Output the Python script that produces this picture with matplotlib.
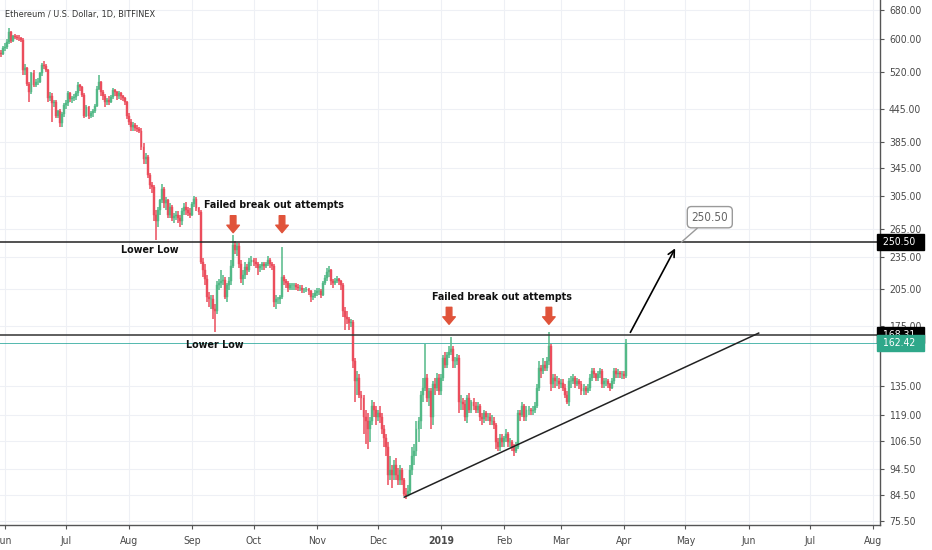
import matplotlib
matplotlib.use("Agg")
import matplotlib.pyplot as plt
import matplotlib.dates as mdates
import matplotlib.transforms as mtransforms
import numpy as np
import pandas as pd

# daily ETH/USD candles, 2018-05-29 .. 2019-04-02
start_date = "2018-05-29"
first_open = 560
closes = [
    566, 562, 578,
    # Jun
    580, 592, 618, 596, 608, 606, 604, 602, 598, 525, 530, 495, 478, 518, 492, 498, 500, 518, 538, 535,
    525, 466, 470, 455, 458, 432, 440, 418, 434, 452,
    # Jul
    455, 475, 464, 466, 468, 475, 492, 488, 472, 432, 448, 432, 436, 440, 450, 485, 500, 478, 470, 458,
    462, 458, 468, 482, 478, 470, 476, 470, 466, 458, 432,
    # Aug
    420, 412, 415, 410, 408, 405, 378, 358, 362, 335, 320, 318, 282, 275, 288, 300, 315, 296, 300, 282,
    292, 278, 280, 282, 278, 274, 286, 292, 288, 284, 282,
    # Sep
    295, 302, 290, 285, 230, 222, 214, 198, 196, 196, 188, 186, 208, 210, 212, 213, 198, 208, 212, 226,
    248, 242, 246, 228, 214, 218, 225, 222, 230, 232,
    # Oct
    230, 228, 224, 226, 228, 226, 228, 232, 228, 226, 194, 196, 196, 198, 216, 212, 210, 206, 208, 208,
    208, 207, 206, 206, 204, 204, 205, 203, 198, 199, 201,
    # Nov
    203, 203, 200, 210, 215, 220, 222, 212, 210, 212, 214, 212, 208, 186, 182, 180, 177, 178, 150, 138,
    140, 130, 128, 118, 116, 112, 116, 124, 122, 118,
    # Dec
    120, 118, 112, 108, 104, 92, 94, 92, 96, 92, 90, 94, 90, 85, 84, 86, 94, 100, 102, 112,
    116, 130, 134, 140, 128, 132, 118, 136, 134, 140, 132,
    # Jan
    140, 152, 148, 154, 156, 158, 150, 150, 152, 126, 126, 125, 118, 128, 122, 126, 124, 122, 124, 118,
    117, 120, 118, 118, 116, 116, 114, 106, 104, 108, 106,
    # Feb
    108, 110, 106, 106, 104, 102, 104, 120, 119, 124, 118, 122, 122, 121, 122, 124, 134, 146, 144, 148,
    146, 150, 160, 136, 140, 138, 138, 136,
    # Mar
    137, 134, 130, 126, 138, 138, 140, 136, 138, 136, 132, 134, 132, 134, 140, 144, 142, 140, 142, 144,
    136, 138, 138, 136, 134, 138, 144, 142, 143, 142, 142,
    # Apr
    141, 162.42,
]
highs = [
    575, 572, 582,
    590, 600, 630, 622, 612, 614, 610, 612, 606, 602, 540, 532, 500, 522, 525, 505, 508, 522, 542, 545,
    540, 528, 478, 476, 462, 462, 442, 445, 438, 456,
    462, 480, 478, 470, 474, 480, 498, 494, 490, 475, 452, 450, 440, 444, 454, 490, 515, 502, 482, 474,
    466, 470, 472, 486, 484, 480, 480, 478, 472, 468, 460,
    436, 425, 420, 418, 414, 412, 410, 384, 368, 365, 338, 324, 320, 288, 292, 302, 322, 318, 304, 302,
    296, 294, 284, 286, 286, 282, 290, 296, 298, 292, 290,
    298, 306, 304, 292, 288, 234, 228, 218, 202, 200, 200, 192, 212, 214, 222, 218, 216, 210, 216, 232,
    258, 252, 250, 250, 232, 222, 230, 228, 234, 236,
    234, 234, 230, 228, 230, 230, 230, 236, 234, 230, 228, 200, 198, 200, 245, 218, 214, 212, 210, 210,
    210, 210, 209, 208, 208, 206, 207, 206, 204, 201, 204,
    206, 206, 205, 212, 218, 224, 226, 223, 214, 215, 217, 215, 213, 210, 190, 186, 182, 180, 179, 152,
    144, 142, 132, 130, 122, 120, 118, 127, 126, 124,
    122, 124, 120, 114, 110, 106, 100, 96, 98, 99, 95, 96, 95, 91, 87, 88, 96, 104, 105, 116,
    118, 132, 140, 162, 142, 134, 134, 138, 140, 143, 142,
    142, 154, 156, 156, 160, 167, 160, 153, 155, 154, 130, 128, 127, 130, 131, 127, 128, 126, 126, 125,
    120, 122, 121, 120, 120, 119, 118, 115, 108, 110, 110,
    109, 112, 111, 108, 107, 105, 106, 122, 122, 126, 125, 124, 124, 123, 124, 126, 136, 150, 148, 152,
    150, 153, 170, 162, 142, 142, 141, 140,
    139, 139, 136, 132, 140, 141, 142, 141, 140, 139, 138, 136, 135, 136, 142, 146, 146, 143, 144, 146,
    145, 140, 140, 139, 137, 140, 146, 146, 145, 144, 144,
    144, 165,
]
lows = [
    548, 555, 560,
    570, 575, 588, 590, 592, 600, 598, 596, 592, 515, 515, 490, 458, 474, 488, 488, 492, 496, 512, 528,
    520, 458, 460, 420, 448, 428, 428, 412, 412, 430,
    445, 450, 458, 455, 460, 462, 470, 480, 468, 428, 430, 425, 428, 430, 436, 448, 482, 470, 462, 448,
    452, 452, 455, 464, 470, 462, 464, 462, 460, 452, 425,
    415, 405, 405, 404, 402, 400, 372, 350, 350, 330, 315, 310, 275, 253, 268, 282, 296, 290, 288, 278,
    278, 274, 272, 276, 272, 268, 270, 282, 282, 280, 278,
    280, 292, 286, 282, 228, 216, 208, 194, 190, 188, 180, 170, 184, 204, 206, 208, 196, 194, 204, 208,
    224, 238, 236, 224, 210, 208, 214, 218, 220, 226,
    226, 224, 218, 220, 222, 222, 224, 226, 224, 222, 190, 188, 192, 192, 196, 208, 206, 202, 204, 204,
    204, 204, 203, 203, 201, 201, 202, 200, 194, 195, 197,
    199, 200, 197, 199, 208, 212, 216, 208, 206, 208, 210, 208, 204, 182, 172, 176, 172, 174, 146, 126,
    130, 128, 122, 110, 105, 103, 106, 114, 118, 114,
    116, 115, 110, 104, 100, 88, 90, 87, 90, 90, 88, 88, 88, 84, 83, 84, 85, 92, 96, 100,
    106, 112, 126, 132, 126, 124, 112, 114, 130, 132, 130,
    130, 138, 146, 146, 152, 154, 146, 146, 148, 120, 122, 122, 116, 115, 120, 120, 122, 120, 120, 116,
    114, 115, 116, 116, 114, 114, 112, 103, 102, 102, 104,
    104, 106, 104, 104, 102, 100, 101, 103, 116, 118, 116, 116, 119, 119, 119, 120, 123, 132, 140, 142,
    144, 144, 148, 132, 134, 134, 135, 133,
    134, 132, 128, 125, 124, 134, 136, 134, 135, 133, 130, 130, 130, 131, 132, 138, 140, 138, 138, 140,
    134, 134, 135, 134, 132, 133, 136, 140, 140, 140, 139,
    139, 140,
]

price_ticks = [75.5, 84.5, 94.5, 106.5, 119, 135, 175, 205, 235, 265, 305, 345, 385, 445, 520, 600, 680]
month_starts = pd.date_range("2018-06-01", "2019-08-01", freq="MS")
month_labels = ["Jun", "Jul", "Aug", "Sep", "Oct", "Nov", "Dec", "2019",
                "Feb", "Mar", "Apr", "May", "Jun", "Jul", "Aug"]

resistance = 168.31
target = 250.50
last_price = 162.42
trend_dates = ["2018-12-14", "2019-06-06"]
trend_prices = [83.7, 169.5]
proj_dates = ["2019-04-04", "2019-04-26"]
proj_prices = [170.0, 244.0]
attempt_dates = ["2018-09-21", "2018-10-15", "2019-01-05", "2019-02-23"]
attempt_tips = [261, 261, 176, 176]

UP = "#53b987"
DOWN = "#eb4d5c"
ARROW_RED = "#e0533a"
TEXT = "#4a4a4a"
NARROW = dict(family=["DejaVu Sans"], fontstretch="condensed")

dates = pd.date_range(start_date, periods=len(closes), freq="D")
closes = np.array(closes, dtype=float)
highs = np.array(highs, dtype=float)
lows = np.array(lows, dtype=float)
opens = np.r_[first_open, closes[:-1]]
x = mdates.date2num(dates)
colors = np.where(closes >= opens, UP, DOWN)

fig = plt.figure(figsize=(9.32, 5.5), dpi=100)
ax = fig.add_axes([0, 25 / 550, 880 / 932, 525 / 550])
ax.set_yscale("log")

ax.vlines(x, lows, highs, colors=colors, linewidth=1.1, zorder=3)
body_lo = np.minimum(opens, closes)
body_hi = np.maximum(opens, closes)
ax.bar(x, body_hi - body_lo, bottom=body_lo, width=0.95, color=colors, edgecolor=colors,
       linewidth=0.3, zorder=3)

x0 = mdates.date2num(pd.Timestamp("2018-06-01")) - 2.45
ax.set_xlim(x0, x0 + 432)
ax.set_ylim(74.25, 710)

# grid + axes styling
ax.set_yticks(price_ticks)
ax.yaxis.set_minor_locator(matplotlib.ticker.NullLocator())
ax.set_yticklabels([f"{v:.2f}" for v in price_ticks])
ax.yaxis.tick_right()
ax.set_xticks(mdates.date2num(month_starts))
ax.set_xticklabels(month_labels)
for lbl in ax.get_xticklabels():
    if lbl.get_text() == "2019":
        lbl.set_fontweight("bold")
        lbl.set_color("#333333")
ax.tick_params(axis="both", colors="#555555", labelcolor=TEXT, labelsize=7.5, length=3, width=0.8)
ax.tick_params(axis="x", pad=5)
for lbl in ax.get_xticklabels() + ax.get_yticklabels():
    lbl.set_fontstretch("condensed")
ax.grid(True, color="#eef0f5", linewidth=0.8, zorder=0)
for side in ("top", "left"):
    ax.spines[side].set_visible(False)
for side in ("right", "bottom"):
    ax.spines[side].set_color("#555555")
    ax.spines[side].set_linewidth(1.0)

# horizontal levels
ax.axhline(target, color="#222222", linewidth=1.1, zorder=4)
ax.axhline(resistance, color="#333333", linewidth=1.1, zorder=4)
ax.axhline(last_price, color="#26a69a", linewidth=0.7, alpha=0.8, zorder=2)

# price labels on the axis
blend = mtransforms.blended_transform_factory(ax.transAxes, ax.transData)
for val, bg in ((target, "black"), (resistance, "black"), (last_price, "#2fa88a")):
    ax.text(1.0, val, f" {val:.2f}  ", transform=blend, ha="left", va="center", color="white",
            fontsize=7.5, clip_on=False, zorder=10, **NARROW,
            bbox=dict(boxstyle="square,pad=0.3", fc=bg, ec=bg))

# trend line and projection arrow
ax.plot(mdates.date2num(pd.to_datetime(trend_dates)), trend_prices, color="#222222", linewidth=1.1, zorder=5)
px = mdates.date2num(pd.to_datetime(proj_dates))
ax.annotate("", xy=(px[1], proj_prices[1]), xytext=(px[0], proj_prices[0]),
            arrowprops=dict(arrowstyle="->", color="black", lw=1.2, shrinkA=0, shrinkB=0,
                            mutation_scale=12), zorder=6)

# target callout
ax.annotate(f"{target:.2f}", xy=(mdates.date2num(pd.Timestamp("2019-04-29")), target),
            xytext=(mdates.date2num(pd.Timestamp("2019-05-13")), 279),
            ha="center", va="center", fontsize=8.5, color="#666666", **NARROW,
            bbox=dict(boxstyle="round,pad=0.35", fc="white", ec="#9a9a9a", lw=1.0),
            arrowprops=dict(arrowstyle="-", color="#9a9a9a", lw=1.0, shrinkA=0, shrinkB=0),
            zorder=7)

# failed breakout markers
for d, tip in zip(attempt_dates, attempt_tips):
    ax.annotate("", xy=(mdates.date2num(pd.Timestamp(d)), tip), xytext=(0, 17),
                textcoords="offset pixels",
                arrowprops=dict(arrowstyle="simple,head_length=0.6,head_width=1.0,tail_width=0.45",
                                color=ARROW_RED, shrinkA=0, shrinkB=0, mutation_scale=9),
                zorder=8)

label_kw = dict(ha="center", va="center", fontsize=7.7, fontweight="bold", color="#111111", zorder=9, **NARROW)
ax.text(mdates.date2num(pd.Timestamp("2018-10-11")), 294, "Failed break out attempts", **label_kw)
ax.text(mdates.date2num(pd.Timestamp("2019-01-31")), 198, "Failed break out attempts", **label_kw)
ax.text(mdates.date2num(pd.Timestamp("2018-08-11")), 242, "Lower Low", **label_kw)
ax.text(mdates.date2num(pd.Timestamp("2018-09-12")), 161, "Lower Low", **label_kw)

ax.text(0.006, 0.972, "Ethereum / U.S. Dollar, 1D, BITFINEX", transform=ax.transAxes, ha="left", va="center",
        fontsize=6.6, color="#333333", zorder=9, **NARROW)

fig.savefig("out.png", dpi=100)
